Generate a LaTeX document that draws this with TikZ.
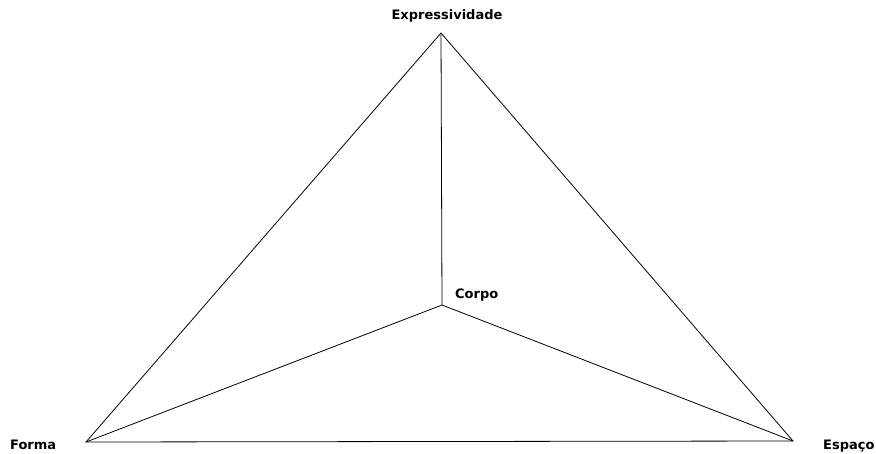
\documentclass[tikz,border=0pt]{standalone}
\usepackage{fontspec}
\setmainfont{DejaVu Sans}
\begin{document}
\begin{tikzpicture}[x=1pt,y=-1pt,
  lbl/.style={font=\bfseries\fontsize{13}{14}\selectfont, inner sep=0pt},
  edge/.style={draw=black, line width=0.8pt}]
\useasboundingbox (0,0) rectangle (876,453);
\coordinate (T) at (441,33);
\coordinate (L) at (86,442);
\coordinate (R) at (793,441);
\coordinate (C) at (442,305);
\node[lbl, anchor=center] (te) at (447,16) {Expressividade};
\node[lbl, anchor=west] (tc) at (455,295) {Corpo};
\node[lbl, anchor=west] (tf) at (10,445) {Forma};
\node[lbl, anchor=west] (ts) at (823,446) {Espaço};
\draw[edge] (T) -- (L) -- (R) -- cycle;
\draw[edge] (T) -- (C);
\draw[edge] (C) -- (L);
\draw[edge] (C) -- (R);
\end{tikzpicture}
\end{document}
